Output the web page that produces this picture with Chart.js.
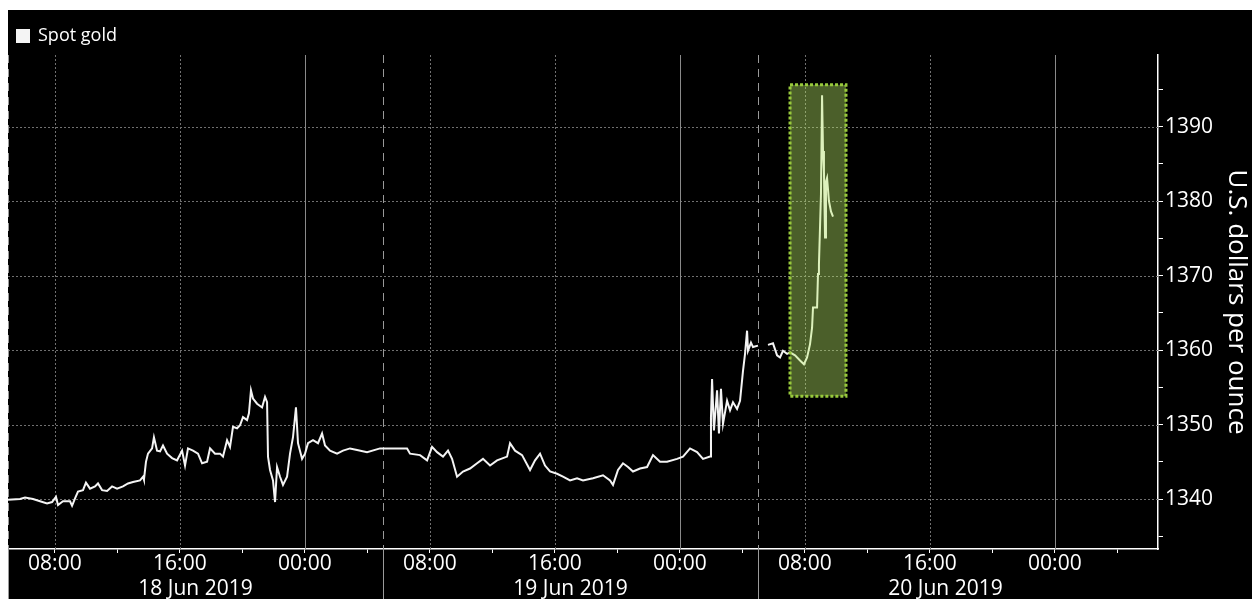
<!DOCTYPE html>
<html>
<head>
<meta charset="utf-8">
<script src="https://cdn.jsdelivr.net/npm/chart.js@4.4.1/dist/chart.umd.min.js"></script>
<style>
  body { margin: 10px 0 0 8px; background: #fff; overflow: hidden; }
  #wrap { width: 1244px; height: 589px; background: #000; }
</style>
</head>
<body>
<div id="wrap"><canvas id="goldChart" width="1244" height="589"></canvas></div>
<script>
// Spot gold, hours counted from 18 Jun 2019 00:00 (null = no trading)
const hours = [
  5.00, 5.77, 6.09, 6.60, 7.05, 7.50, 7.82, 8.07, 8.20, 8.52, 8.97, 9.10, 9.29, 9.48, 9.80, 9.99,
  10.25, 10.57, 10.76, 11.02, 11.34, 11.66, 11.98, 12.36, 12.68, 13.00, 13.45, 13.64, 13.70, 13.83, 13.96,
  14.22, 14.34, 14.54, 14.73, 14.92, 15.18, 15.50, 15.82, 16.14, 16.33, 16.52, 16.84, 17.16, 17.42, 17.74,
  17.93, 18.25, 18.57, 18.76, 19.02, 19.21, 19.40, 19.66, 19.85, 20.04, 20.30, 20.42, 20.55, 20.68, 20.94,
  21.26, 21.45, 21.58, 21.64, 21.77, 21.96, 22.09, 22.22, 22.41, 22.60, 22.86, 23.05, 23.24, 23.43, 23.56,
  23.82, 24.01, 24.20, 24.52, 24.84, 25.10, 25.29, 25.61, 26.06, 26.44, 26.89, 27.34, 27.98, 28.81, 29.64,
  30.54, 30.73, 31.37, 31.82, 32.14, 32.46, 32.84, 33.16, 33.42, 33.74, 34.12, 34.57, 35.02, 35.40, 35.85,
  36.30, 36.94, 37.13, 37.45, 37.90, 38.41, 38.73, 39.05, 39.37, 39.69, 40.14, 40.52, 40.97, 41.42, 41.80,
  42.44, 43.08, 43.53, 43.72, 44.04, 44.36, 44.68, 45.00, 45.45, 45.90, 46.28, 46.73, 47.18, 47.82, 48.20,
  48.65, 49.10, 49.48, 49.93, 49.99, 50.06, 50.18, 50.38, 50.50, 50.63, 50.76, 51.02, 51.21, 51.40, 51.66,
  51.85, 52.04, 52.17, 52.30, 52.36, 52.55, 52.68, 53.00, 53.30, 53.64, 53.96, 54.22, 54.41, 54.60, 54.86,
  55.05, 55.37, 55.69, 55.94, 56.14, 56.33, 56.46, 56.52, 56.78, 56.84, 56.90, 57.03, 57.10, 57.16, 57.22,
  57.29, 57.35, 57.42, 57.54, 57.67, 57.80
];
const spotGold = [
  1339.9, 1340.0, 1340.2, 1340.0, 1339.7, 1339.4, 1339.6, 1340.3, 1339.2, 1339.7, 1339.7, 1339.1, 1340.1, 1341.0, 1341.2, 1342.2,
  1341.4, 1341.7, 1342.1, 1341.2, 1341.1, 1341.7, 1341.4, 1341.7, 1342.1, 1342.3, 1342.5, 1343.0, 1342.6, 1345.0, 1346.1,
  1346.8, 1348.3, 1346.5, 1346.4, 1347.2, 1346.1, 1345.5, 1345.2, 1346.5, 1344.5, 1346.8, 1346.5, 1346.1, 1344.8, 1345.0,
  1346.8, 1346.1, 1346.1, 1345.7, 1347.9, 1347.0, 1349.7, 1349.5, 1349.9, 1351.0, 1350.6, 1351.5, 1354.6, 1353.5, 1352.8,
  1352.3, 1353.7, 1353.0, 1345.7, 1343.9, 1342.5, 1339.6, 1344.3, 1343.0, 1341.9, 1343.0, 1346.1, 1348.3, 1352.3, 1347.5,
  1345.4, 1346.1, 1347.5, 1347.9, 1347.5, 1348.8, 1347.2, 1346.5, 1346.1, 1346.5, 1346.8, 1346.6, 1346.3, 1346.8, 1346.8,
  1346.8, 1346.1, 1345.9, 1345.2, 1347.0, 1346.3, 1345.7, 1346.5, 1345.4, 1343.0, 1343.7, 1344.1, 1344.8, 1345.4, 1344.5,
  1345.2, 1345.7, 1347.5, 1346.5, 1345.9, 1343.9, 1345.2, 1346.1, 1344.5, 1343.7, 1343.4, 1343.0, 1342.5, 1342.8, 1342.5,
  1342.8, 1343.2, 1342.5, 1341.9, 1343.9, 1344.8, 1344.3, 1343.7, 1344.1, 1344.3, 1345.9, 1345.0, 1345.0, 1345.4, 1345.7,
  1346.8, 1346.3, 1345.4, 1345.7, 1351.0, 1356.1, 1349.2, 1354.6, 1348.8, 1354.8, 1350.1, 1353.2, 1351.9, 1353.0, 1352.1,
  1353.2, 1357.2, 1359.5, 1362.6, 1359.9, 1361.0, 1360.4, 1360.6, null, 1360.7, 1360.9, 1359.3, 1359.0, 1359.9, 1359.5,
  1359.7, 1359.3, 1358.6, 1358.1, 1359.0, 1360.8, 1363.0, 1365.7, 1365.7, 1370.2, 1371.5, 1380.9, 1394.2, 1386.7, 1384.0,
  1375.1, 1382.6, 1383.1, 1380.0, 1378.6, 1377.9
];

// session breaks (05:00 each day) and their date labels
const sessionStarts = [5, 29, 53, 77];
const sessionLabels = ['18 Jun 2019', '19 Jun 2019', '20 Jun 2019'];

// highlighted move: time range (hours) and price range
const highlightHours = [55.05, 58.63];
const highlightPrice = [1353.8, 1395.6];

const xMin = 5, xMax = 78.6;
const yMin = 1333.3, yMax = 1399.6;

const fontFamily = "'Open Sans', 'Noto Sans', sans-serif";

function hourLabel(h) {
  const hh = h % 24;
  return (hh < 10 ? '0' : '') + hh + ':00';
}

const gridPlugin = {
  id: 'bbgGrid',
  beforeDatasetsDraw(chart) {
    const { ctx, chartArea: a, scales: { x, y } } = chart;
    ctx.save();
    ctx.lineWidth = 1;
    // horizontal dotted lines
    ctx.strokeStyle = '#707070';
    ctx.setLineDash([2, 2]);
    for (let v = 1340; v <= 1390; v += 10) {
      const py = Math.round(y.getPixelForValue(v)) + 0.5;
      ctx.beginPath(); ctx.moveTo(a.left, py); ctx.lineTo(a.right, py); ctx.stroke();
    }
    // vertical lines at 8h steps
    for (let h = 8; h < xMax; h += 8) {
      const px = Math.round(x.getPixelForValue(h)) + 0.5;
      if (h % 24 === 0) {
        ctx.setLineDash([]);
        ctx.strokeStyle = '#8a8a8a';
      } else {
        ctx.setLineDash([2, 2]);
        ctx.strokeStyle = '#707070';
      }
      ctx.beginPath(); ctx.moveTo(px, a.top); ctx.lineTo(px, a.bottom); ctx.stroke();
    }
    // session breaks (the last one only bounds the date label)
    ctx.strokeStyle = '#9a9a9a';
    sessionStarts.slice(0, -1).forEach(h => {
      const px = Math.round(x.getPixelForValue(h)) + 0.5;
      ctx.setLineDash([8, 6]);
      ctx.beginPath(); ctx.moveTo(px, a.top); ctx.lineTo(px, a.bottom); ctx.stroke();
      ctx.setLineDash([]);
      ctx.beginPath(); ctx.moveTo(px, a.bottom); ctx.lineTo(px, chart.height); ctx.stroke();
    });
    ctx.restore();
  },
  afterDatasetsDraw(chart) {
    const { ctx, scales: { x, y } } = chart;
    const x0 = x.getPixelForValue(highlightHours[0]);
    const x1 = x.getPixelForValue(highlightHours[1]);
    const y0 = y.getPixelForValue(highlightPrice[1]);
    const y1 = y.getPixelForValue(highlightPrice[0]);
    ctx.save();
    ctx.fillStyle = 'rgba(187, 237, 105, 0.4)';
    ctx.fillRect(x0, y0, x1 - x0, y1 - y0);
    ctx.strokeStyle = '#98c93c';
    ctx.lineWidth = 3;
    ctx.setLineDash([3, 2]);
    ctx.strokeRect(x0, y0, x1 - x0, y1 - y0);
    ctx.restore();
  }
};

const ctx = document.getElementById('goldChart').getContext('2d');
new Chart(ctx, {
  type: 'line',
  data: {
    datasets: [{
      label: 'Spot gold',
      data: hours.map((h, i) => ({ x: h, y: spotGold[i] })),
      borderColor: '#f4f4f4',
      backgroundColor: '#f4f4f4',
      borderWidth: 2,
      pointRadius: 0,
      tension: 0,
      spanGaps: false
    }]
  },
  options: {
    responsive: false,
    animation: false,
    layout: { padding: { top: 8, left: 0, right: 0, bottom: 0 } },
    plugins: {
      tooltip: { enabled: false },
      legend: {
        position: 'top',
        align: 'start',
        labels: {
          color: '#ffffff',
          boxWidth: 12,
          boxHeight: 12,
          padding: 9,
          font: { family: fontFamily, size: 18 }
        }
      }
    },
    scales: {
      x: {
        type: 'linear',
        position: 'bottom',
        min: xMin,
        max: xMax,
        weight: 0,
        afterBuildTicks(scale) {
          const t = [];
          for (let h = 8; h < xMax; h += 4) t.push({ value: h });
          scale.ticks = t;
        },
        afterFit(scale) { scale.height = 30; },
        ticks: {
          autoSkip: false,
          maxRotation: 0,
          padding: 1,
          color: '#ffffff',
          font: { family: fontFamily, size: 21, lineHeight: 1 },
          callback: v => (v % 8 === 0 ? hourLabel(v) : '')
        },
        grid: { drawOnChartArea: false, drawTicks: true, tickLength: 4, tickColor: '#ffffff', tickWidth: 1 },
        border: { display: true, color: '#ffffff', width: 1.5 }
      },
      xDate: {
        type: 'linear',
        position: 'bottom',
        min: xMin,
        max: xMax,
        weight: 1,
        afterBuildTicks(scale) {
          scale.ticks = sessionLabels.map((_, i) => ({ value: (sessionStarts[i] + sessionStarts[i + 1]) / 2 }));
        },
        afterFit(scale) { scale.height = 20; },
        ticks: {
          autoSkip: false,
          maxRotation: 0,
          padding: 0,
          color: '#ffffff',
          font: { family: fontFamily, size: 21, lineHeight: 1 },
          callback: (v, i) => sessionLabels[i]
        },
        grid: { display: false, drawTicks: false },
        border: { display: false }
      },
      y: {
        type: 'linear',
        position: 'right',
        min: yMin,
        max: yMax,
        afterBuildTicks(scale) {
          const t = [];
          for (let v = 1335; v <= 1395; v += 5) t.push({ value: v });
          scale.ticks = t;
        },
        afterFit(scale) { scale.width = 94; },
        ticks: {
          padding: 2,
          color: '#ffffff',
          font: { family: fontFamily, size: 21 },
          callback: v => (v % 10 === 0 ? String(v) : '')
        },
        grid: { drawOnChartArea: false, drawTicks: true, tickLength: 5, tickColor: '#ffffff' },
        border: { display: true, color: '#ffffff', width: 1.5 },
        title: {
          display: true,
          text: 'U.S. dollars per ounce',
          color: '#ffffff',
          padding: { top: 0, bottom: 0 },
          font: { family: fontFamily, size: 26 }
        }
      }
    }
  },
  plugins: [gridPlugin]
});
</script>
</body>
</html>
